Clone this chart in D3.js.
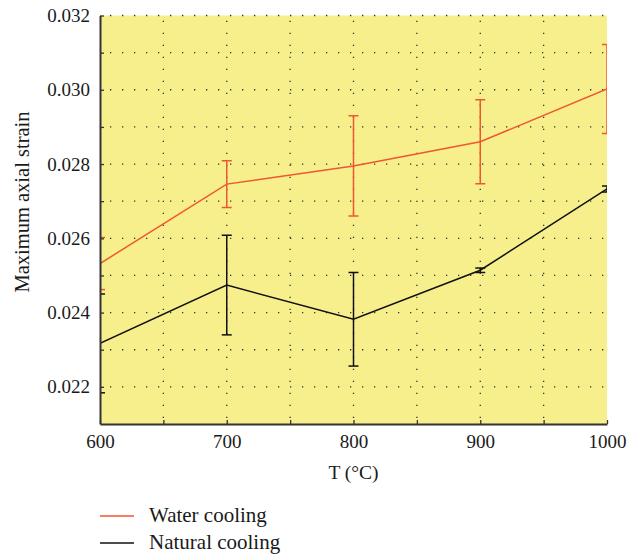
<!DOCTYPE html>
<html>
<head>
<meta charset="utf-8">
<script src="https://cdn.jsdelivr.net/npm/d3@7"></script>
<style>
  html, body { margin: 0; padding: 0; background: #fff; }
</style>
</head>
<body>
<svg id="chart" width="627" height="556"></svg>
<script>
// ---- data ----
const temperatures = [600, 700, 800, 900, 1000];
const waterMean  = [0.02532, 0.02746, 0.02795, 0.02860, 0.03002];
const waterErr   = [0.00070, 0.00063, 0.00135, 0.00113, 0.00120];
const naturalMean = [0.02317, 0.02474, 0.02382, 0.02514, 0.02733];
const naturalErr  = [0.00133, 0.00134, 0.00126, 0.00006, 0.00008];
const xTicks = [600, 700, 800, 900, 1000];
const yTicks = [0.022, 0.024, 0.026, 0.028, 0.030, 0.032];
const seriesNames = ["Water cooling", "Natural cooling"];

const FONT = "'Liberation Serif', 'Times New Roman', 'DejaVu Serif', serif";

// ---- layout ----
const svg = d3.select("#chart");
const L = 100, R = 607, T = 15.5, B = 424;
const x = d3.scaleLinear().domain([600, 1000]).range([L, R]);
const y = d3.scaleLinear().domain([0.021, 0.032]).range([B, T]);

const colors = ["#ef5632", "#111111"];

// background
svg.append("rect").attr("x", L).attr("y", T).attr("width", R - L).attr("height", B - T)
  .attr("fill", "#f7ef8c");

// clip
svg.append("clipPath").attr("id", "clip").append("rect")
  .attr("x", L).attr("y", T).attr("width", R - L).attr("height", B - T);

// grid
const grid = svg.append("g");
d3.range(650, 1000, 50).forEach(v => {
  grid.append("line").attr("x1", x(v)).attr("x2", x(v)).attr("y1", B - 6).attr("y2", T)
    .attr("stroke", "#333").attr("stroke-width", 1.3).attr("stroke-dasharray", "1.3,10.7");
});
d3.range(0.022, 0.0321, 0.001).forEach(v => {
  grid.append("line").attr("x1", L + 10).attr("x2", R).attr("y1", y(v)).attr("y2", y(v))
    .attr("stroke", "#333").attr("stroke-width", 1.3).attr("stroke-dasharray", "1.3,10.7");
});

// series
const series = [
  { mean: waterMean, err: waterErr, color: colors[0] },
  { mean: naturalMean, err: naturalErr, color: colors[1] }
];
const plot = svg.append("g").attr("clip-path", "url(#clip)");
const line = d3.line().x((d, i) => x(temperatures[i])).y(d => y(d));
series.forEach(s => {
  plot.append("path").datum(s.mean).attr("d", line)
    .attr("fill", "none").attr("stroke", s.color).attr("stroke-width", 1.5);
  s.mean.forEach((m, i) => {
    const cx = x(temperatures[i]);
    const y1 = y(m + s.err[i]), y2 = y(m - s.err[i]);
    plot.append("line").attr("x1", cx).attr("x2", cx).attr("y1", y1).attr("y2", y2)
      .attr("stroke", s.color).attr("stroke-width", 1.5);
    [y1, y2].forEach(yy => {
      plot.append("line").attr("x1", cx - 5).attr("x2", cx + 5).attr("y1", yy).attr("y2", yy)
        .attr("stroke", s.color).attr("stroke-width", 1.5);
    });
  });
});

// axes
const xAxis = d3.axisBottom(x).tickValues(d3.range(600, 1001, 50))
  .tickFormat(d => xTicks.includes(d) ? d : "").tickSizeInner(-4).tickSizeOuter(0).tickPadding(11);
const gx = svg.append("g").attr("transform", `translate(0,${B})`).call(xAxis)
  .attr("font-family", FONT).attr("font-size", 19);
gx.select(".domain").attr("stroke", "#333").attr("stroke-width", 2);
gx.selectAll(".tick line").attr("stroke", "#333").attr("stroke-width", 1.3);
gx.selectAll(".tick text").style("font-size", "19px").style("font-family", FONT).attr("fill", "#1a1a1a");

const yAxis = d3.axisLeft(y).tickValues(d3.range(0.021, 0.0321, 0.001).filter(v => v > 0.0215))
  .tickFormat(d => yTicks.some(t => Math.abs(t - d) < 1e-6) ? d3.format(".3f")(d) : "")
  .tickSizeInner(-4).tickSizeOuter(0).tickPadding(10);
const gy = svg.append("g").attr("transform", `translate(${L},0)`).call(yAxis)
  .attr("font-family", FONT).attr("font-size", 19);
gy.select(".domain").attr("stroke", "#333").attr("stroke-width", 2);
gy.selectAll(".tick line").attr("stroke", "#333").attr("stroke-width", 1.3);
gy.selectAll(".tick text").style("font-size", "19px").style("font-family", FONT).attr("fill", "#1a1a1a");

// axis titles
svg.append("text").attr("x", (L + R) / 2).attr("y", 479).attr("text-anchor", "middle")
  .style("font-size", "19.5px").style("font-family", FONT).attr("fill", "#1a1a1a").text("T (°C)");
svg.append("text").attr("transform", "translate(29,202) rotate(-90)").attr("text-anchor", "middle")
  .style("font-size", "20.5px").style("font-family", FONT).attr("fill", "#1a1a1a").text("Maximum axial strain");

// legend
seriesNames.forEach((name, i) => {
  const ly = 516 + i * 27;
  svg.append("line").attr("x1", 100).attr("x2", 134).attr("y1", ly).attr("y2", ly)
    .attr("stroke", colors[i]).attr("stroke-width", 1.5);
  svg.append("text").attr("x", 149).attr("y", ly + 6)
    .style("font-size", "21px").style("font-family", FONT).attr("fill", "#1a1a1a").text(name);
});
</script>
</body>
</html>
